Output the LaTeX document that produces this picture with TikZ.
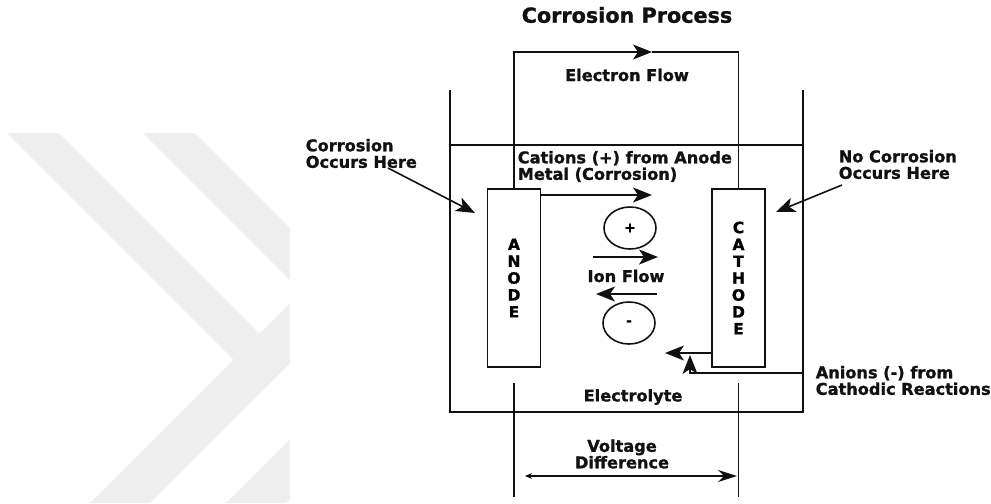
\documentclass[tikz,border=0pt]{standalone}
\usepackage{fontspec}
\setmainfont{DejaVu Sans}[BoldFeatures={FakeBold=1.2}]
\usepackage{xcolor}
\usepackage{tikz}
\usetikzlibrary{arrows.meta, positioning, calc, shapes.geometric}
\definecolor{cink}{HTML}{111111}
\definecolor{cwater}{HTML}{EFEFEF}

\begin{document}
\begin{tikzpicture}[x=1cm, y=1cm,
    line width=0.9pt, draw=cink,
    lbl/.style={font=\fontsize{9.2}{9.4}\selectfont\bfseries, text=cink, inner sep=0pt},
    arr/.style={-{Stealth[length=0.38cm, width=0.3cm, inset=0.1cm]}},
    electrode/.style={draw, rectangle, minimum width=1.06cm, minimum height=3.56cm,
      inner sep=0pt, align=center, font=\fontsize{8.8}{9.6}\selectfont\bfseries},
    ion/.style={draw, ellipse, minimum width=1.04cm, minimum height=0.84cm, inner sep=0pt,
      font=\fontsize{8}{9}\selectfont\bfseries}]

  \useasboundingbox (0,0) rectangle (19.82,10.06);

  %% Watermark chevrons
  \begin{scope}
    \clip (0,0) rectangle (5.80,7.40);
    \foreach \s in {0,2.72} {
      \fill[cwater] ({0.14+\s},7.40) -- ({1.18+\s},7.40) -- ({5.79+\s},2.79) -- ({5.27+\s},2.27) -- cycle;
      \fill[cwater] ({1.80+\s},0) -- ({3.00+\s},0) -- ({10.40+\s},7.40) -- ({9.20+\s},7.40) -- cycle;
    }
  \end{scope}

  %% Title
  \node[lbl, font=\fontsize{11.8}{12}\selectfont\bfseries] (title) at (12.54,9.76) {Corrosion Process};

  %% Tank and electrolyte
  \draw (9.00,8.26) -- (9.00,1.82) -- (16.06,1.82) -- (16.06,8.26);
  \draw (9.00,7.16) -- (16.06,7.16);

  %% Electrodes
  \node[electrode] (anode) at (10.28,4.50) {A\\N\\O\\D\\E};
  \node[electrode] (cathode) at (14.77,4.50) {C\\A\\T\\H\\O\\D\\E};

  %% Electron flow through the wire
  \coordinate (etip) at (13.04,9.02);
  \draw[arr] (anode.north) |- (etip);
  \draw (etip) -| (cathode.north);
  \node[lbl] (eflow) at (12.54,8.56) {Electron Flow};

  %% Corrosion labels
  \node[lbl, anchor=west, align=left] (corrL) at (6.10,6.99) {Corrosion\\Occurs Here};
  \coordinate (corrLs) at (7.76,6.70);
  \coordinate (corrLt) at (9.50,5.80);
  \draw[arr] (corrLs) -- (corrLt);
  \node[lbl, anchor=west, align=left] (corrR) at (16.76,6.77) {No Corrosion\\Occurs Here};
  \coordinate (corrRs) at (16.84,6.36);
  \coordinate (corrRt) at (15.52,5.82);
  \draw[arr] (corrRs) -- (corrRt);

  %% Cations leaving the anode
  \node[lbl, anchor=west, align=left] (cations) at (10.34,6.73) {Cations (+) from Anode\\Metal (Corrosion)};
  \coordinate (catip) at (13.04,6.16);
  \draw[arr] (anode.east |- catip) -- (catip);

  %% Ion flow
  \node[ion] (cplus) at (12.60,5.50) {+};
  \node[ion] (cminus) at (12.58,3.60) {-};
  \node[lbl] (ionflow) at (12.52,4.54) {Ion Flow};
  \coordinate (ionRs) at (11.86,4.92);
  \coordinate (ionRt) at (13.16,4.92);
  \draw[arr] (ionRs) -- (ionRt);
  \coordinate (ionLs) at (13.14,4.18);
  \coordinate (ionLt) at (11.92,4.18);
  \draw[arr] (ionLs) -- (ionLt);

  %% Anions from the cathode
  \coordinate (antip) at (13.30,3.00);
  \draw[arr] (cathode.west |- antip) -- (antip);
  \coordinate (anwall) at (16.06,2.60);
  \coordinate (anup) at (13.80,2.96);
  \draw[arr] (anwall) -| (anup);
  \node[lbl, anchor=west, align=left] (anions) at (16.30,2.45) {Anions (-) from\\Cathodic Reactions};

  \node[lbl] (electrolyte) at (12.66,2.12) {Electrolyte};

  %% Voltage difference
  \coordinate (vtop) at (0,2.40);
  \coordinate (vbot) at (0,0.12);
  \draw (anode.center |- vtop) -- (anode.center |- vbot);
  \draw (cathode.center |- vtop) -- (cathode.center |- vbot);
  \node[lbl, align=center] (volt) at (12.44,0.98) {Voltage\\Difference};
  \coordinate (vl) at (10.50,0.54);
  \coordinate (vr) at (14.74,0.54);
  \draw[{Stealth[length=0.14cm, width=0.12cm]}-{Stealth[length=0.38cm, width=0.24cm]}] (vl) -- (vr);

\end{tikzpicture}
\end{document}
